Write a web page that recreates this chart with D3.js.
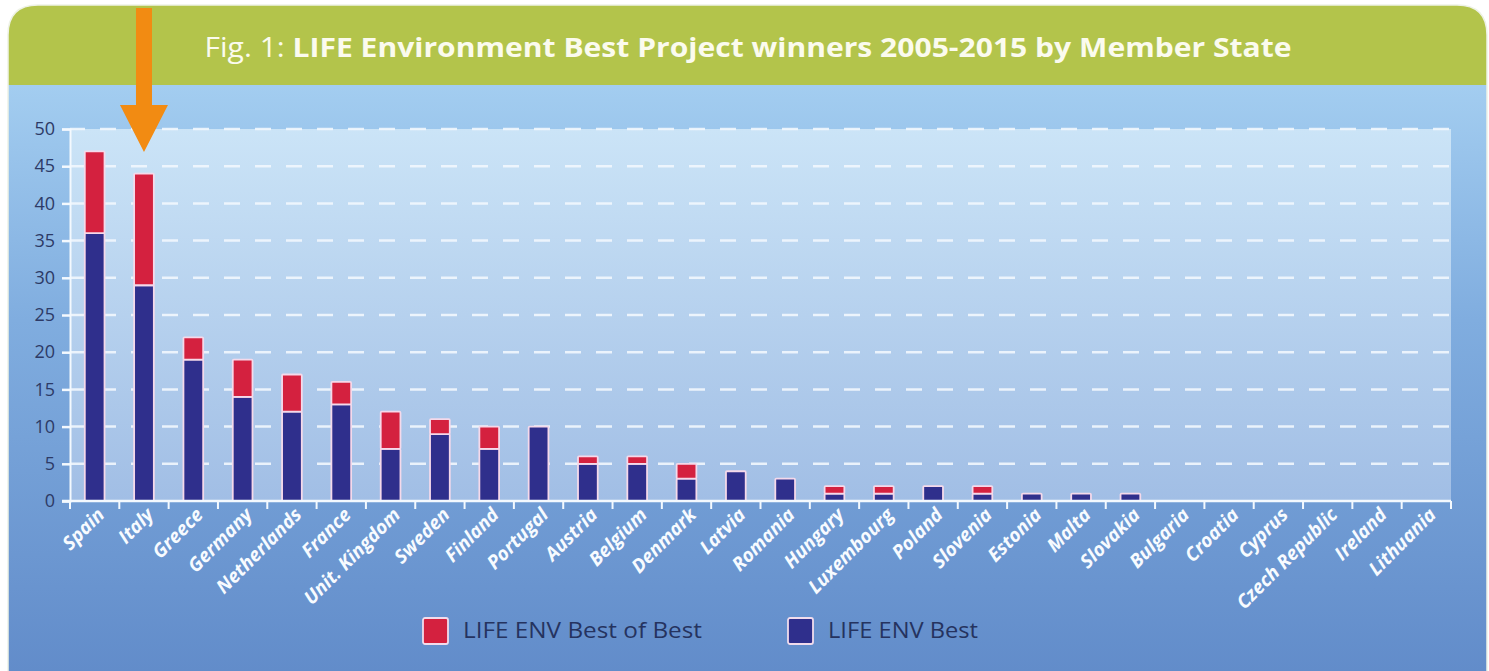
<!DOCTYPE html>
<html>
<head>
<meta charset="utf-8">
<script src="https://cdn.jsdelivr.net/npm/d3@7"></script>
<style>
  body { margin: 0; background: #fff; }
  svg { display: block; }
</style>
</head>
<body>
<div id="chart"></div>
<script>
// values
const countries = ["Spain", "Italy", "Greece", "Germany", "Netherlands", "France", "Unit. Kingdom",
    "Sweden", "Finland", "Portugal", "Austria", "Belgium", "Denmark", "Latvia", "Romania", "Hungary",
    "Luxembourg", "Poland", "Slovenia", "Estonia", "Malta", "Slovakia", "Bulgaria", "Croatia",
    "Cyprus", "Czech Republic", "Ireland", "Lithuania"];
const best = [36, 29, 19, 14, 12, 13, 7, 9, 7, 10, 5, 5, 3, 4, 3, 1, 1, 2, 1, 1, 1, 1, 0, 0, 0, 0, 0, 0];
const bestOfBest = [11, 15, 3, 5, 5, 3, 5, 2, 3, 0, 1, 1, 2, 0, 0, 1, 1, 0, 1, 0, 0, 0, 0, 0, 0, 0, 0, 0];
const yTicks = [0, 5, 10, 15, 20, 25, 30, 35, 40, 45, 50];
const seriesNames = ["LIFE ENV Best of Best", "LIFE ENV Best"];

const width = 1489, height = 671;
const plot = { left: 70, right: 1451, top: 129, bottom: 501 };
const colors = { best: "#2f2f8c", bestOfBest: "#d4213f" };

const svg = d3.select("#chart").append("svg")
    .attr("width", width)
    .attr("height", height);

const defs = svg.append("defs");
const bodyGrad = defs.append("linearGradient")
    .attr("id", "bodyGrad").attr("x1", 0).attr("y1", 0).attr("x2", 0).attr("y2", 1);
bodyGrad.append("stop").attr("offset", "0%").attr("stop-color", "#afd8f6");
bodyGrad.append("stop").attr("offset", "45%").attr("stop-color", "#80addf");
bodyGrad.append("stop").attr("offset", "100%").attr("stop-color", "#5f89c8");

const plotGrad = defs.append("linearGradient")
    .attr("id", "plotGrad").attr("x1", 0).attr("y1", 0).attr("x2", 0).attr("y2", 1);
plotGrad.append("stop").attr("offset", "0%").attr("stop-color", "#cbe4f7");
plotGrad.append("stop").attr("offset", "100%").attr("stop-color", "#a1bee5");

defs.append("clipPath").attr("id", "frameClip")
    .append("path")
    .attr("d", "M8,700 L8,35 Q8,5 38,5 L1457,5 Q1487,5 1487,35 L1487,700 Z");

// frame: blue body + green title band
const frame = svg.append("g").attr("clip-path", "url(#frameClip)");
frame.append("rect").attr("x", 8).attr("y", 5).attr("width", 1480).attr("height", 700)
    .attr("fill", "url(#bodyGrad)");
frame.append("rect").attr("x", 8).attr("y", 5).attr("width", 1480).attr("height", 80)
    .attr("fill", "#b3c44b");
svg.append("path")
    .attr("d", "M8,700 L8,35 Q8,5 38,5 L1457,5 Q1487,5 1487,35 L1487,700")
    .attr("fill", "none")
    .attr("stroke", "#eef2e6")
    .attr("stroke-width", 1.5);

// title
const title = svg.append("text")
    .attr("x", 748)
    .attr("y", 57)
    .attr("text-anchor", "middle")
    .attr("textLength", 1087)
    .attr("lengthAdjust", "spacingAndGlyphs")
    .style("font-family", "'Open Sans', sans-serif")
    .style("font-size", "27px")
    .style("fill", "#fbfbee");
title.append("tspan").text("Fig. 1: ");
title.append("tspan").style("font-weight", "bold")
    .text("LIFE Environment Best Project winners 2005-2015 by Member State");

// plot background
svg.append("rect")
    .attr("x", plot.left).attr("y", plot.top)
    .attr("width", plot.right - plot.left)
    .attr("height", plot.bottom - plot.top)
    .attr("fill", "url(#plotGrad)");

const x = d3.scaleBand()
    .domain(countries)
    .range([plot.left, plot.right])
    .paddingInner(0.6)
    .paddingOuter(0.3);

const y = d3.scaleLinear()
    .domain([0, 50])
    .range([plot.bottom, plot.top]);

// dashed gridlines
svg.append("g").selectAll("line")
    .data(yTicks.filter(d => d > 0))
    .enter().append("line")
    .attr("x1", plot.left).attr("x2", plot.right)
    .attr("y1", d => y(d)).attr("y2", d => y(d))
    .attr("stroke", "#f2f8fe")
    .attr("stroke-width", 2.5)
    .attr("stroke-dasharray", "16,15")
    .attr("stroke-dashoffset", -30)
    .attr("opacity", 0.9);

// y axis
const yAxis = svg.append("g")
    .attr("transform", "translate(" + plot.left + ",0)")
    .call(d3.axisLeft(y).tickValues(yTicks).tickSize(8).tickPadding(7));
yAxis.select(".domain").attr("stroke", "#f4f9fe").attr("stroke-width", 2);
yAxis.selectAll(".tick line").attr("stroke", "#f4f9fe").attr("stroke-width", 2.5);
yAxis.selectAll(".tick text")
    .style("font-family", "'Open Sans', sans-serif")
    .style("font-size", "18px")
    .style("fill", "#2d3a66");

// stacked bars
const rows = countries.map((c, i) => ({ name: c, best: best[i], bestOfBest: bestOfBest[i] }));
const stack = d3.stack().keys(["best", "bestOfBest"]);
const layers = stack(rows);

svg.append("g").selectAll("g")
    .data(layers)
    .enter().append("g")
    .attr("fill", d => colors[d.key])
    .selectAll("rect")
    .data(d => d.filter(s => s[1] > s[0]))
    .enter().append("rect")
    .attr("x", d => x(d.data.name))
    .attr("width", x.bandwidth())
    .attr("y", d => y(d[1]))
    .attr("height", d => y(d[0]) - y(d[1]))
    .attr("rx", 1)
    .attr("stroke", "#f5d9ea")
    .attr("stroke-width", 1.8);

// x axis: baseline, boundary ticks, labels
const xAxis = svg.append("g")
    .attr("transform", "translate(0," + plot.bottom + ")")
    .call(d3.axisBottom(x).tickSize(0).tickPadding(0));
xAxis.select(".domain").remove();
xAxis.append("line")
    .attr("x1", plot.left - 8).attr("x2", plot.right)
    .attr("stroke", "#f4f9fe").attr("stroke-width", 2.5);
xAxis.selectAll(".bound")
    .data(d3.range(countries.length + 1))
    .enter().append("line")
    .attr("class", "bound")
    .attr("x1", i => plot.left + i * x.step())
    .attr("x2", i => plot.left + i * x.step())
    .attr("y1", 0).attr("y2", 8)
    .attr("stroke", "#f4f9fe").attr("stroke-width", 2);
xAxis.selectAll(".tick text")
    .attr("text-anchor", "end")
    .attr("dy", 0)
    .attr("transform", "translate(" + (x.bandwidth() / 2 + 1) + ",15) rotate(-45)")
    .style("font-family", "'Open Sans', sans-serif")
    .style("font-size", "19px")
    .style("font-weight", "bold")
    .style("font-style", "italic")
    .style("fill", "#f7fbff");

// legend
const legend = svg.append("g");
const legendItems = [
    { name: seriesNames[0], color: colors.bestOfBest, x: 423, len: 239 },
    { name: seriesNames[1], color: colors.best, x: 788, len: 150 }
];
const item = legend.selectAll("g")
    .data(legendItems)
    .enter().append("g")
    .attr("transform", d => "translate(" + d.x + ",618)");
item.append("rect")
    .attr("width", 25).attr("height", 26).attr("rx", 2)
    .attr("fill", d => d.color)
    .attr("stroke", "#f1dcec").attr("stroke-width", 1.8);
item.append("text")
    .attr("x", 40)
    .attr("y", 20)
    .attr("textLength", d => d.len)
    .attr("lengthAdjust", "spacingAndGlyphs")
    .style("font-family", "'Open Sans', sans-serif")
    .style("font-size", "22px")
    .style("fill", "#25335f")
    .text(d => d.name);

// orange pointer arrow above Italy
const ax = x("Italy") + x.bandwidth() / 2;
svg.append("path")
    .attr("d", "M" + (ax - 8) + ",8 L" + (ax + 8) + ",8 L" + (ax + 8) + ",105 L" + (ax + 24) + ",105 L" +
        ax + ",152 L" + (ax - 24) + ",105 L" + (ax - 8) + ",105 Z")
    .attr("fill", "#f28b12");
</script>
</body>
</html>
